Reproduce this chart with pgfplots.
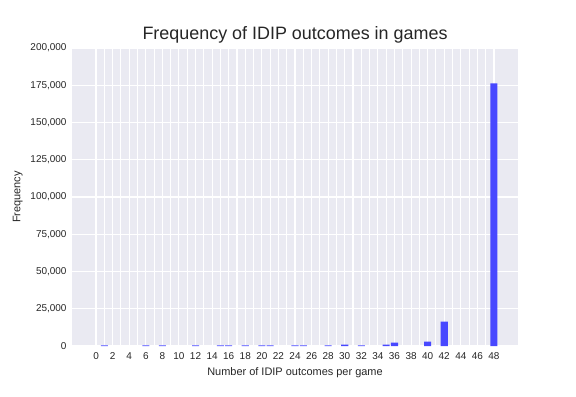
\documentclass[border=0pt]{standalone}
\usepackage{pgfplots}
\pgfplotsset{compat=1.18}
\usepackage{fontspec}
\setmainfont{Liberation Sans}
\definecolor{bgc}{RGB}{234,234,242}
\definecolor{barc}{RGB}{72,72,255}
\definecolor{txt}{RGB}{38,38,38}
\begin{document}
\begin{tikzpicture}[x=1bp,y=1bp]
\path[use as bounding box] (0,0) rectangle (576,396);
\begin{axis}[
  at={(72bp,50bp)}, anchor=south west,
  scale only axis, width=446bp, height=298bp,
  xmin=-2.9, xmax=50.9, ymin=0, ymax=200000,
  axis background/.style={fill=bgc},
  axis line style={draw=none},
  major tick length=0pt, minor tick length=0pt,
  xtick={0,2,...,48}, minor xtick={1,3,...,47},
  ytick={0,25000,...,200000},
  grid=both,
  major grid style={white, line width=1.1bp},
  minor grid style={white, line width=1.1bp},
  scaled y ticks=false,
  /pgf/number format/assume math mode=true,
  ticklabel style={font=\fontsize{10}{12}\selectfont, text=txt},
  xticklabel style={yshift=-3bp},
  yticklabel style={xshift=-2bp, /pgf/number format/.cd, fixed, 1000 sep={,}},
  xlabel={Number of IDIP outcomes per game},
  ylabel={Frequency},
  label style={font=\fontsize{11}{13}\selectfont, text=txt},
  title={Frequency of IDIP outcomes in games},
  title style={font=\fontsize{18}{21}\selectfont, text=txt, yshift=-5bp},
  xlabel style={yshift=-1bp},
  ylabel style={yshift=1bp},
]
\addplot[ybar, bar width=0.85, fill=barc, draw=none] coordinates {
(1,500) (6,500) (8,500) (12,500) (15,500) (16,500) (18,500) (20,500) (21,500)
(24,500) (25,500) (28,500) (30,1000) (32,500) (35,1000) (36,2300) (40,3000)
(42,16400) (48,176200)
};
\end{axis}
\end{tikzpicture}
\end{document}
